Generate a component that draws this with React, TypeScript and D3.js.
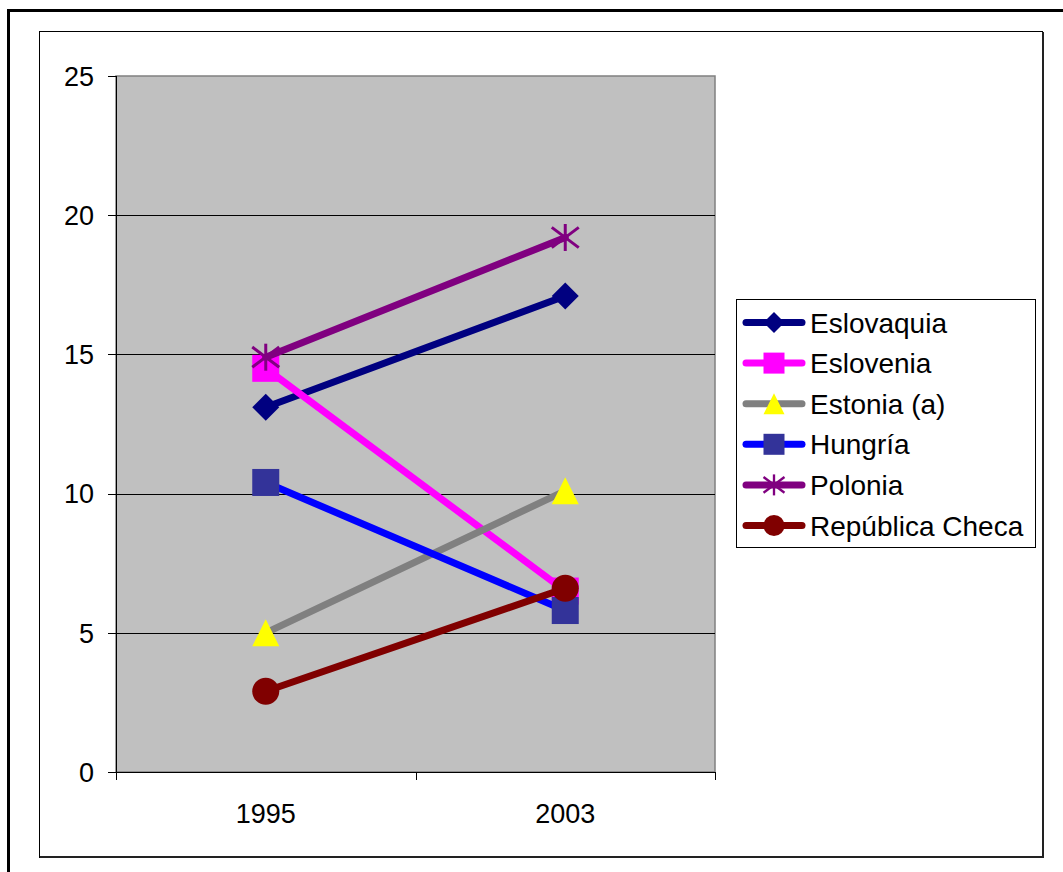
import React from "react";
import * as d3 from "d3";

// Categories and series values
const years = ["1995", "2003"];
const seriesNames = ["Eslovaquia", "Eslovenia", "Estonia (a)", "Hungría", "Polonia", "República Checa"];
const eslovaquia = [13.1, 17.1];
const eslovenia = [14.5, 6.5];
const estonia = [5.0, 10.1];
const hungria = [10.4, 5.8];
const polonia = [14.9, 19.2];
const republicaCheca = [2.9, 6.6];
const yTicks = [0, 5, 10, 15, 20, 25];

type Marker = "diamond" | "square" | "triangle" | "star" | "circle";
const seriesValues = [eslovaquia, eslovenia, estonia, hungria, polonia, republicaCheca];
const lineColors = ["#000080", "#FF00FF", "#808080", "#0000FF", "#800080", "#800000"];
const markerColors = ["#000080", "#FF00FF", "#FFFF00", "#333399", "#800080", "#800000"];
const markers: Marker[] = ["diamond", "square", "triangle", "square", "star", "circle"];

const W = 1063;
const H = 872;
const plot = { left: 116, top: 76, right: 715, bottom: 772 };
const FONT = "'Liberation Sans', Arial, sans-serif";

function MarkerShape({ type, x, y, size, color }: { type: Marker; x: number; y: number; size: number; color: string }) {
  const h = size / 2;
  if (type === "diamond") {
    return <path d={`M${x},${y - h}L${x + h},${y}L${x},${y + h}L${x - h},${y}Z`} fill={color} />;
  }
  if (type === "square") {
    return <rect x={x - h} y={y - h} width={size} height={size} fill={color} />;
  }
  if (type === "triangle") {
    return <path d={`M${x},${y - h}L${x + h},${y + h}L${x - h},${y + h}Z`} fill={color} />;
  }
  if (type === "circle") {
    return <circle cx={x} cy={y} r={h} fill={color} />;
  }
  const d = h * 0.75;
  return (
    <g stroke={color} strokeWidth={size / 9} strokeLinecap="butt">
      <line x1={x} y1={y - h} x2={x} y2={y + h} />
      <line x1={x - h} y1={y - d} x2={x + h} y2={y + d} />
      <line x1={x - h} y1={y + d} x2={x + h} y2={y - d} />
    </g>
  );
}

export default function App() {
  const x = d3.scaleBand<string>().domain(years).range([plot.left, plot.right]);
  const y = d3.scaleLinear().domain([0, 25]).range([plot.bottom, plot.top]);
  const cx = (yr: string) => (x(yr) as number) + x.bandwidth() / 2;
  const line = d3
    .line<number>()
    .x((_, i) => cx(years[i]))
    .y((v) => y(v));

  const xTickPositions = [plot.left, ...years.map((yr) => (x(yr) as number) + x.bandwidth())];

  const legend = { left: 736, top: 299, width: 299, height: 248, rowStart: 322.5, rowStep: 40.6 };

  return (
    <svg width={W} height={H} style={{ position: "absolute", left: 0, top: 0, background: "#fff" }} fontFamily={FONT}>
      {/* outer frame */}
      <rect x={8.5} y={10.5} width={W + 20} height={H + 20} fill="none" stroke="#000" strokeWidth={3} />
      {/* chart area */}
      <rect x={39.5} y={31.5} width={1003} height={826} fill="#fff" stroke="#000" strokeWidth={1} />
      <line x1={1043} y1={32} x2={1043} y2={858} stroke="#222" strokeWidth={2} />
      <line x1={40} y1={857} x2={1044} y2={857} stroke="#222" strokeWidth={2} />

      {/* plot area */}
      <rect x={plot.left} y={plot.top} width={plot.right - plot.left} height={plot.bottom - plot.top} fill="#C0C0C0" stroke="#808080" strokeWidth={1.5} />
      {yTicks.filter((t) => t > 0 && t < 25).map((t) => (
        <line key={t} x1={plot.left} x2={plot.right} y1={Math.round(y(t)) + 0.5} y2={Math.round(y(t)) + 0.5} stroke="#000" strokeWidth={1} />
      ))}

      {/* axes */}
      <line x1={plot.left + 0.5} y1={plot.top} x2={plot.left + 0.5} y2={plot.bottom + 8} stroke="#000" strokeWidth={1} />
      <line x1={plot.left - 8} y1={plot.bottom + 0.5} x2={plot.right} y2={plot.bottom + 0.5} stroke="#000" strokeWidth={1} />
      {yTicks.map((t) => (
        <g key={t}>
          <line x1={plot.left - 8} x2={plot.left} y1={Math.round(y(t)) + 0.5} y2={Math.round(y(t)) + 0.5} stroke="#000" />
          <text x={94} y={y(t)} dy="0.36em" textAnchor="end" fontSize={27} fill="#000">{t}</text>
        </g>
      ))}
      {xTickPositions.map((p, i) => (
        <line key={i} x1={Math.round(p) + 0.5} x2={Math.round(p) + 0.5} y1={plot.bottom} y2={plot.bottom + 8} stroke="#000" />
      ))}
      {years.map((yr) => (
        <text key={yr} x={cx(yr)} y={813} dy="0.36em" textAnchor="middle" fontSize={27} fill="#000">{yr}</text>
      ))}

      {/* series */}
      {seriesValues.map((vals, si) => (
        <g key={seriesNames[si]}>
          <path d={line(vals) as string} fill="none" stroke={lineColors[si]} strokeWidth={7} strokeLinecap="round" />
          {vals.map((v, i) => (
            <MarkerShape key={i} type={markers[si]} x={cx(years[i])} y={y(v)} size={27} color={markerColors[si]} />
          ))}
        </g>
      ))}

      {/* legend */}
      <rect x={legend.left + 0.5} y={legend.top + 0.5} width={legend.width} height={legend.height} fill="#fff" stroke="#000" strokeWidth={1} />
      {seriesNames.map((name, si) => {
        const ry = legend.rowStart + si * legend.rowStep;
        return (
          <g key={name}>
            <line x1={746} x2={802} y1={ry} y2={ry} stroke={lineColors[si]} strokeWidth={7} strokeLinecap="round" />
            <MarkerShape type={markers[si]} x={774} y={ry} size={21} color={markerColors[si]} />
            <text x={810} y={ry} dy="0.36em" fontSize={28} fill="#000">{name}</text>
          </g>
        );
      })}
    </svg>
  );
}
